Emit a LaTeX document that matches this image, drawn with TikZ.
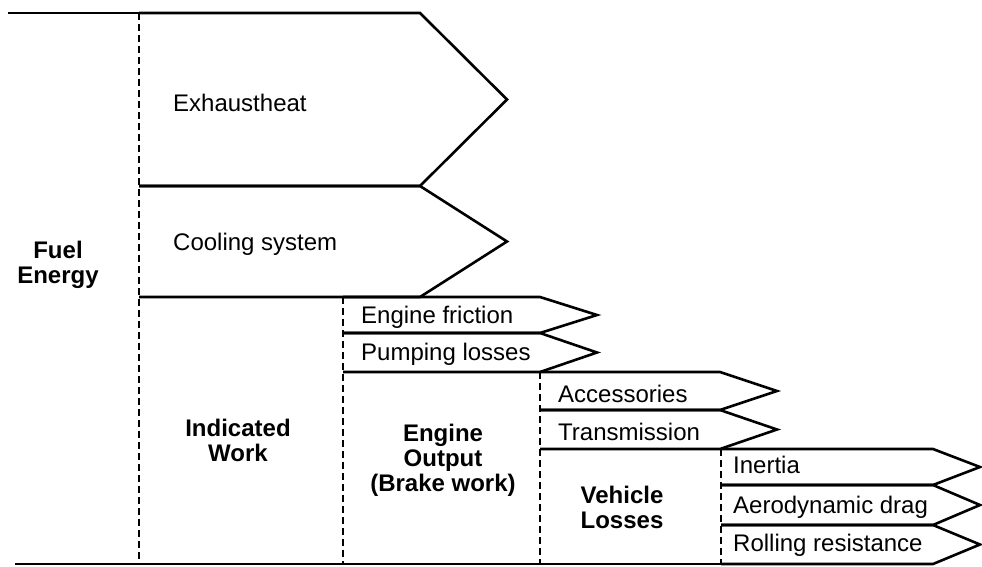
\documentclass[tikz,border=0pt]{standalone}
\usepackage{fontspec}
\setmainfont{Liberation Sans}
\usetikzlibrary{calc}

% one band of the flow: left, top, bottom, start of point, tip
\newcommand{\flowband}[5]{%
  \draw[band] (#1,#2) -- (#4,#2) -- (#5,{(#2+#3)/2}) -- (#4,#3) -- (#1,#3);}

\begin{document}
\begin{tikzpicture}[x=1pt,y=-1pt,line join=miter,
  band/.style={line width=2.6pt},
  split/.style={line width=2.4pt,dash pattern=on 7pt off 4pt},
  lbl/.style={anchor=base west,inner sep=0pt,font=\fontsize{24}{28}\selectfont},
  head/.style={align=center,inner sep=0pt,font=\fontsize{24}{25}\selectfont\bfseries}]
\useasboundingbox (0,0) rectangle (982,566);
% outer lines of the fuel energy
\draw[band] (8,13) -- (139,13);
\draw[band] (15,564) -- (933,564);
% heat losses
\flowband{139}{13}{186}{420}{507}
\flowband{139}{186}{297}{420}{507}
\draw[band] (139,297) -- (420,297);
% engine losses
\flowband{343}{297}{333}{540}{597}
\flowband{343}{333}{372}{540}{597}
% driveline losses
\flowband{540}{372}{410}{720}{777}
\flowband{540}{410}{449}{720}{777}
% vehicle losses
\flowband{721}{449}{485}{933}{980}
\flowband{721}{485}{525}{933}{980}
\flowband{721}{525}{564}{933}{980}
% dividers
\draw[split] (139,13) -- (139,564);
\draw[split] (343,297) -- (343,564);
\draw[split] (540,372) -- (540,564);
\draw[split] (721,449) -- (721,564);
% labels
\node[lbl] (exh) at (173,111) {Exhaustheat};
\node[lbl] (cool) at (173,250) {Cooling system};
\node[lbl] (fric) at (361,323) {Engine friction};
\node[lbl] (pump) at (361,360) {Pumping losses};
\node[lbl] (acc) at (558,402) {Accessories};
\node[lbl] (trans) at (558,440) {Transmission};
\node[lbl] (inert) at (733,473) {Inertia};
\node[lbl] (aero) at (733,513) {Aerodynamic drag};
\node[lbl] (roll) at (733,551) {Rolling resistance};
\node[head] (fuel) at (58,265) {Fuel\\Energy};
\node[head] (ind) at (238,440) {Indicated\\Work};
\node[head] (eng) at (443,460) {Engine\\Output\\(Brake work)};
\node[head] (veh) at (622,507) {Vehicle\\Losses};
\end{tikzpicture}
\end{document}
